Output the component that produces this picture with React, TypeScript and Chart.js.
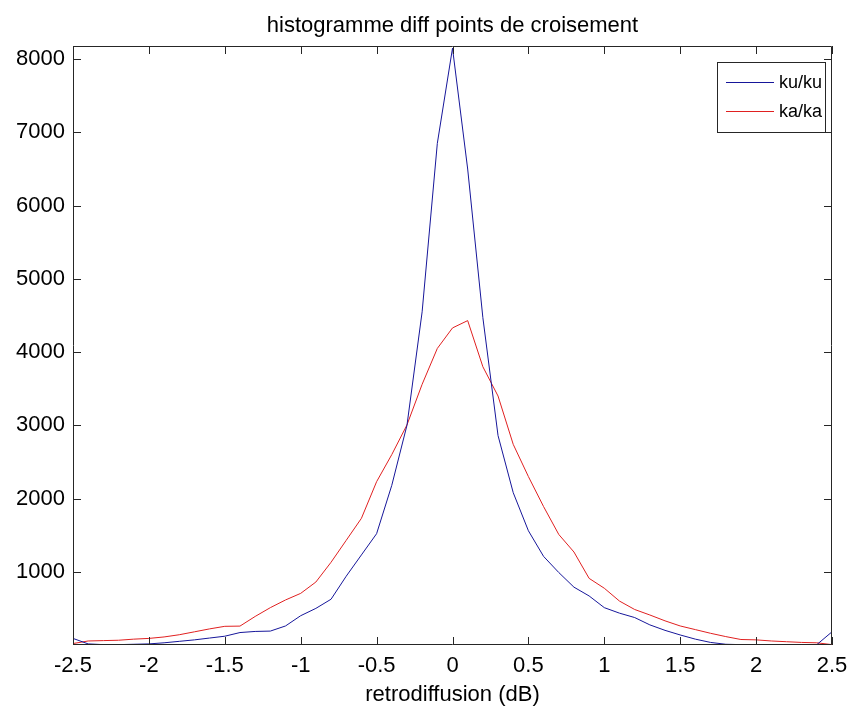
import React, { useEffect, useRef } from "react";
import { Chart, registerables } from "chart.js";

Chart.register(...registerables);

const xValues = [
  -2.5, -2.4, -2.3, -2.2, -2.1, -2.0, -1.9, -1.8, -1.7, -1.6,
  -1.5, -1.4, -1.3, -1.2, -1.1, -1.0, -0.9, -0.8, -0.7, -0.6,
  -0.5, -0.4, -0.3, -0.2, -0.1, 0.0, 0.1, 0.2, 0.3, 0.4,
  0.5, 0.6, 0.7, 0.8, 0.9, 1.0, 1.1, 1.2, 1.3, 1.4,
  1.5, 1.6, 1.7, 1.8, 1.9, 2.0, 2.1, 2.2, 2.3, 2.4, 2.5,
];

const kuValues = [
  90, 15, 5, 5, 10, 15, 30, 50, 70, 95,
  120, 170, 185, 190, 260, 400, 500, 625, 940, 1230,
  1520, 2180, 3000, 4550, 6850, 8150, 6500, 4470, 2860, 2080,
  1560, 1210, 990, 790, 670, 510, 435, 375, 275, 200,
  137, 80, 35, 10, 5, 5, 3, 3, 3, 5, 180,
];

const kaValues = [
  20, 55, 60, 65, 80, 90, 110, 140, 180, 220,
  255, 258, 390, 510, 615, 705, 860, 1130, 1430, 1730,
  2230, 2600, 3005, 3560, 4050, 4330, 4430, 3800, 3400, 2740,
  2300, 1890, 1510, 1270, 910, 775, 600, 485, 410, 330,
  260, 210, 160, 115, 75, 70, 55, 45, 35, 30, 5,
];

const xTickValues = [-2.5, -2, -1.5, -1, -0.5, 0, 0.5, 1, 1.5, 2, 2.5];
const xTickLabels = ["-2.5", "-2", "-1.5", "-1", "-0.5", "0", "0.5", "1", "1.5", "2", "2.5"];
const yTickValues = [1000, 2000, 3000, 4000, 5000, 6000, 7000, 8000];
const yTickLabels = ["1000", "2000", "3000", "4000", "5000", "6000", "7000", "8000"];

const seriesLabels = ["ku/ku", "ka/ka"];
const titleText = "histogramme diff points de croisement";
const xAxisTitle = "retrodiffusion (dB)";

const X_MIN = -2.5;
const X_MAX = 2.5;
const Y_MIN = 0;
const Y_MAX = 8180;

const FONT = "'Liberation Sans', Arial, Helvetica, sans-serif";

const framePlugin = {
  id: "matlabFrame",
  afterDraw(chart: any) {
    const { ctx, chartArea } = chart;
    const { left, right, top, bottom } = chartArea;
    const tl = 8;
    ctx.save();

    // title centred over the axes
    ctx.fillStyle = "#000000";
    ctx.font = `22px ${FONT}`;
    ctx.textAlign = "center";
    ctx.textBaseline = "alphabetic";
    ctx.fillText(titleText, (left + right) / 2, 32);

    ctx.strokeStyle = "#262626";
    ctx.lineWidth = 1;
    ctx.beginPath();
    ctx.rect(Math.round(left) + 0.5, Math.round(top) + 0.5, Math.round(right - left) - 1, Math.round(bottom - top) - 1);
    ctx.stroke();
    const xs = chart.scales.x;
    xs.ticks.forEach((t: any) => {
      const px = Math.round(xs.getPixelForValue(t.value)) + 0.5;
      ctx.beginPath();
      ctx.moveTo(px, bottom);
      ctx.lineTo(px, bottom - tl);
      ctx.moveTo(px, top);
      ctx.lineTo(px, top + tl);
      ctx.stroke();
    });
    const ys = chart.scales.y;
    ys.ticks.forEach((t: any) => {
      if (t.value <= Y_MIN) return;
      const py = Math.round(ys.getPixelForValue(t.value)) + 0.5;
      ctx.beginPath();
      ctx.moveTo(left, py);
      ctx.lineTo(left + tl, py);
      ctx.moveTo(right, py);
      ctx.lineTo(right - tl, py);
      ctx.stroke();
    });

    // legend box (inside, north-east)
    const boxW = 108;
    const boxH = 70;
    const bx = Math.round(right) - 7 - boxW;
    const by = Math.round(top) + 16;
    ctx.fillStyle = "#ffffff";
    ctx.fillRect(bx, by, boxW, boxH);
    ctx.strokeStyle = "#262626";
    ctx.strokeRect(bx + 0.5, by + 0.5, boxW, boxH);
    ctx.font = `18px ${FONT}`;
    ctx.textBaseline = "middle";
    ctx.textAlign = "left";
    chart.data.datasets.forEach((ds: any, i: number) => {
      const ly = by + 20 + i * 29;
      ctx.strokeStyle = ds.borderColor;
      ctx.beginPath();
      ctx.moveTo(bx + 9, ly + 0.5);
      ctx.lineTo(bx + 57, ly + 0.5);
      ctx.stroke();
      ctx.fillStyle = "#000000";
      ctx.fillText(ds.label, bx + 62, ly + 1);
    });
    ctx.restore();
  },
};

export default function App() {
  const canvasRef = useRef<HTMLCanvasElement | null>(null);

  useEffect(() => {
    if (!canvasRef.current) return;
    Chart.defaults.font.family = FONT;
    Chart.defaults.color = "#000000";
    const toPoints = (vals: number[]) => xValues.map((x, i) => ({ x, y: vals[i] }));
    const chart = new Chart(canvasRef.current, {
      type: "line",
      data: {
        datasets: [
          {
            label: seriesLabels[0],
            data: toPoints(kuValues),
            borderColor: "#16169a",
            borderWidth: 1,
            pointRadius: 0,
            tension: 0,
            fill: false,
          },
          {
            label: seriesLabels[1],
            data: toPoints(kaValues),
            borderColor: "#e02020",
            borderWidth: 1,
            pointRadius: 0,
            tension: 0,
            fill: false,
          },
        ],
      },
      options: {
        animation: false,
        responsive: false,
        maintainAspectRatio: false,
        layout: { padding: { top: 46, right: 19, bottom: 0, left: 0 } },
        plugins: {
          legend: { display: false },
          tooltip: { enabled: false },
          title: { display: false },
        },
        scales: {
          x: {
            type: "linear",
            min: X_MIN,
            max: X_MAX,
            grid: { display: false, drawTicks: false },
            border: { display: false },
            afterBuildTicks: (scale: any) => {
              scale.ticks = xTickValues.map((v) => ({ value: v }));
            },
            ticks: {
              padding: 8,
              maxRotation: 0,
              autoSkip: false,
              font: { size: 22, family: FONT },
              color: "#000000",
              callback: (v: any) => {
                const i = xTickValues.findIndex((t) => Math.abs(t - Number(v)) < 1e-9);
                return i >= 0 ? xTickLabels[i] : "";
              },
            },
            title: {
              display: true,
              text: xAxisTitle,
              font: { size: 22, family: FONT },
              color: "#000000",
              padding: { top: 0, bottom: 1 },
            },
            afterFit: (scale: any) => {
              scale.height = 64;
              scale.paddingLeft = 0;
              scale.paddingRight = 0;
            },
          },
          y: {
            type: "linear",
            min: Y_MIN,
            max: Y_MAX,
            grid: { display: false, drawTicks: false },
            border: { display: false },
            afterBuildTicks: (scale: any) => {
              scale.ticks = yTickValues.map((v) => ({ value: v }));
            },
            ticks: {
              padding: 8,
              autoSkip: false,
              font: { size: 22, family: FONT },
              color: "#000000",
              callback: (v: any) => {
                const i = yTickValues.indexOf(Number(v));
                return i >= 0 ? yTickLabels[i] : "";
              },
            },
            afterFit: (scale: any) => {
              scale.width = 73;
              scale.paddingTop = 0;
              scale.paddingBottom = 0;
            },
          },
        },
      },
      plugins: [framePlugin],
    });
    return () => chart.destroy();
  }, []);

  return (
    <div style={{ position: "fixed", left: 0, top: 0, width: 851, height: 709, background: "#ffffff" }}>
      <canvas ref={canvasRef} width={851} height={709} style={{ width: 851, height: 709, display: "block" }} />
    </div>
  );
}
